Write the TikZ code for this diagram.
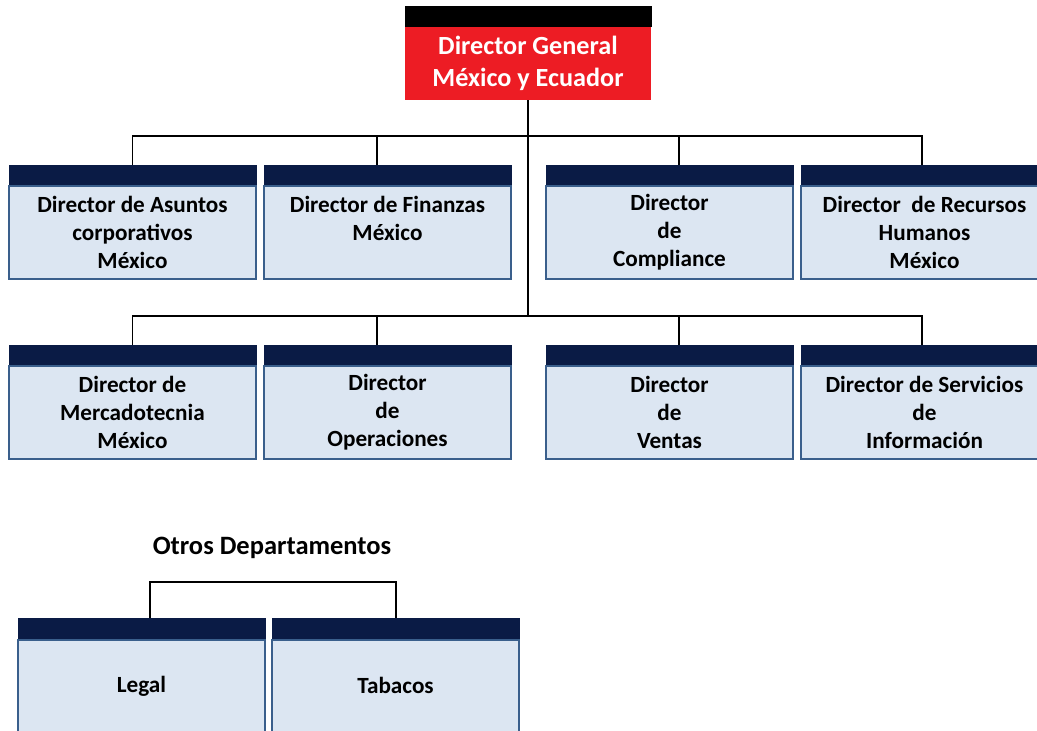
\documentclass[tikz,border=0pt]{standalone}
\usepackage{fontspec}
\setmainfont{Carlito}
\definecolor{navy}{HTML}{0A1B45}
\definecolor{boxfill}{HTML}{DCE6F2}
\definecolor{boxline}{HTML}{3A5F8C}
\definecolor{gmred}{HTML}{ED1C24}
\tikzset{
  hdr/.style={draw=navy, fill=navy, line width=0.8pt, minimum width=247pt, minimum height=21pt,
    anchor=north west, inner sep=0pt, outer sep=0pt},
  bodybox/.style={draw=boxline, line width=1.4pt, fill=boxfill, minimum width=247pt, minimum height=93pt,
    anchor=north west, inner sep=0pt, outer sep=0pt, align=center, text=black,
    font=\fontsize{23.2}{28}\selectfont\bfseries},
  gmbody/.style={fill=gmred, minimum width=246pt, minimum height=73pt, anchor=north west,
    inner sep=0pt, outer sep=0pt, align=center, text=white,
    font=\fontsize{26.2}{32}\selectfont\bfseries},
  gmhdr/.style={fill=black, minimum width=247pt, minimum height=21pt, anchor=north west,
    inner sep=0pt, outer sep=0pt},
  link/.style={draw=black, line width=1.4pt},
  caption/.style={font=\fontsize{26.5}{30}\selectfont\bfseries, text=black}
}
\begin{document}
\begin{tikzpicture}[x=1pt, y=-1pt]
  \useasboundingbox (0,0) rectangle (1037,731);
  \clip (0,0) rectangle (1037,731);
  \fill[white] (0,0) rectangle (1037,731);

  % junction points and drop positions of the connectors
  \coordinate (j1) at (528,136);
  \coordinate (j2) at (528,316);
  \coordinate (d2a) at (377,165);
  \coordinate (d3a) at (679,165);
  \coordinate (d4a) at (922,165);
  \coordinate (d2b) at (377,345);
  \coordinate (d3b) at (679,345);
  \coordinate (d4b) at (922,345);

  % general director
  \node[gmhdr] (gmh) at (405,6) {};
  \node[gmbody] (gm) at (405,27) {Director General\\México y Ecuador};

  % first row
  \node[hdr] (h1) at (9,165) {};
  \node[bodybox] (b1) at (9,186) {Director de Asuntos\\corporativos\\México};
  \node[hdr] (h2) at (264,165) {};
  \node[bodybox] (b2) at (264,186) {Director de Finanzas\\México\\\mbox{}};
  \node[hdr] (h3) at (546,165) {};
  \node[bodybox] (b3) at (546,186) {Director\\de\\Compliance};
  \node[hdr] (h4) at (801,165) {};
  \node[bodybox] (b4) at (801,186) {Director\ \ de Recursos\\Humanos\\México};

  % second row
  \node[hdr] (h5) at (9,345) {};
  \node[bodybox] (b5) at (9,366) {Director de\\Mercadotecnia\\México};
  \node[hdr] (h6) at (264,345) {};
  \node[bodybox] (b6) at (264,366) {Director\\de\\Operaciones};
  \node[hdr] (h7) at (546,345) {};
  \node[bodybox] (b7) at (546,366) {Director\\de\\Ventas};
  \node[hdr] (h8) at (801,345) {};
  \node[bodybox] (b8) at (801,366) {Director de Servicios\\de\\Información};

  % other departments
  \node[caption] (otros) at (272,548) {Otros Departamentos};
  \node[hdr] (h9) at (18,618) {};
  \node[bodybox, minimum height=92pt] (b9) at (18,640) {\raisebox{2pt}{Legal}};
  \node[hdr] (h10) at (272,618) {};
  \node[bodybox, minimum height=92pt] (b10) at (272,640) {\raisebox{2pt}{Tabacos}};
  \coordinate (o1) at (150,582);
  \coordinate (o2) at (396,582);

  % connectors
  \path[link] (gm.south) -- (j2);
  \path[link] (h1.north) |- (j1) -| (d4a);
  \path[link] (d2a |- j1) -- (d2a);
  \path[link] (d3a |- j1) -- (d3a);
  \path[link] (h5.north) |- (j2) -| (d4b);
  \path[link] (d2b |- j2) -- (d2b);
  \path[link] (d3b |- j2) -- (d3b);
  \path[link] (o1 |- h9.north) -- (o1) -- (o2) -- (o2 |- h10.north);
\end{tikzpicture}
\end{document}
